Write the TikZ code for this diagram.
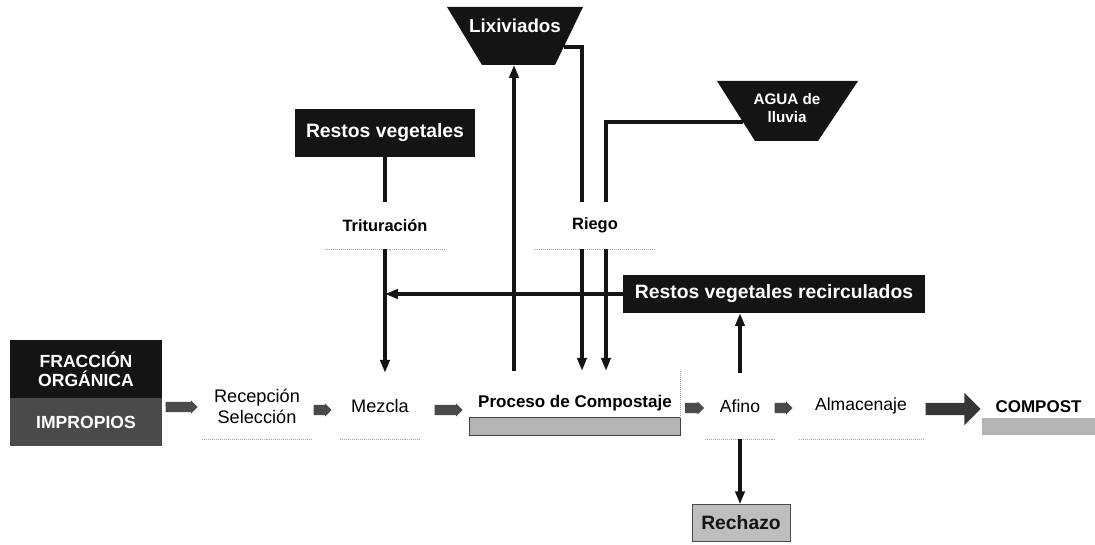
\documentclass[tikz,border=0pt]{standalone}
\usepackage{fontspec}
\setmainfont{Liberation Sans}
\usetikzlibrary{shapes.arrows,arrows.meta}
\definecolor{ink}{HTML}{141414}
\definecolor{impro}{HTML}{4A4A4A}
\definecolor{blkgray}{HTML}{4A4A4A}
\definecolor{bandgray}{HTML}{B4B4B4}
\definecolor{rechgray}{HTML}{BEBEBE}
\begin{document}
\begin{tikzpicture}[x=0.03cm,y=-0.03cm,
  darkbox/.style={rectangle,fill=ink,text=white,inner sep=0pt,align=center,
    font=\fontsize{16.5}{17.5}\selectfont\bfseries},
  trapfill/.style={fill=ink},
  traptext/.style={text=white,inner sep=0pt,align=center,font=\fontsize{15}{16}\selectfont\bfseries},
  stage/.style={rectangle,fill=white,inner sep=0pt,align=center,
    font=\fontsize{15.5}{18}\selectfont},
  stagebf/.style={stage,font=\fontsize{14.5}{17}\selectfont\bfseries},
  uline/.style={draw=gray!70,line width=0.7pt,densely dotted},
  flow/.style={draw=ink,line width=2.6pt},
  arr/.style={flow,-{Triangle[length=11pt,width=8pt]}},
  blk/.style={single arrow,fill=blkgray,draw=none,inner xsep=0pt,inner ysep=0.15cm,
    single arrow head extend=0.04cm,single arrow head indent=0pt},
  band/.style={fill=bandgray,draw=ink!80,line width=0.6pt},
]
\useasboundingbox (0,0) rectangle (1095,545);

% ---------- top inputs ----------
\fill[trapfill] (447,7) -- (583,7) -- (555,65) -- (482,65) -- cycle;
\node[traptext,font=\fontsize{16}{17}\selectfont\bfseries] (lix) at (515,26) {Lixiviados};
\coordinate (lixB) at (514,65);
\coordinate (lixR) at (564,47);
\coordinate (c1) at (582,47);

\fill[trapfill] (717,81) -- (858,81) -- (818,141) -- (755,141) -- cycle;
\node[traptext,font=\fontsize{13}{15}\selectfont\bfseries] (agua) at (787,108) {AGUA de\\lluvia};
\coordinate (aguaL) at (743,122);
\coordinate (c2) at (606,122);

\node[darkbox,minimum width=5.4cm,minimum height=1.44cm] (rv) at (385,133) {Restos vegetales};

\node[stagebf,font=\fontsize{14}{16}\selectfont\bfseries,minimum width=3.6cm,minimum height=1.41cm] (trit) at (385,225.5) {Trituración};
\node[stagebf,font=\fontsize{14}{16}\selectfont\bfseries,minimum width=3.6cm,minimum height=1.41cm] (riego) at (595,225.5) {Riego};
\draw[uline] (trit.south west) -- (trit.south east);
\draw[uline] (riego.south west) -- (riego.south east);

\node[darkbox,minimum width=9.06cm,minimum height=1.14cm] (rvr) at (774,294) {Restos vegetales recirculados};

% ---------- main row ----------
\node[darkbox,font=\fontsize{15}{16}\selectfont\bfseries,minimum width=4.56cm,minimum height=1.74cm] (frac) at (86,369) {FRACCIÓN\\ORGÁNICA};
\node[darkbox,fill=impro,font=\fontsize{15}{16}\selectfont\bfseries,minimum width=4.56cm,minimum height=1.44cm] (impr) at (86,422) {IMPROPIOS};

\node[stage,minimum width=3.3cm,minimum height=1.98cm] (rec) at (257,406) {Recepción\\Selección};
\node[stage,minimum width=2.4cm,minimum height=1.98cm] (mez) at (380,406) {Mezcla};
\node[stagebf,minimum width=6.3cm,minimum height=1.92cm] (proc) at (575,403) {\raisebox{-0.15cm}{Proceso de Compostaje}};
\node[stage,font=\fontsize{15}{18}\selectfont,minimum width=2.1cm,minimum height=1.98cm] (afino) at (740,406) {Afino};
\node[stage,font=\fontsize{15}{18}\selectfont,minimum width=3.7cm,minimum height=1.98cm] (alm) at (861,406) {Almacenaje};
\node[stagebf,minimum width=3.39cm,minimum height=0.66cm] (compost) at (1038.5,407) {COMPOST};

\draw[uline] (rec.south west) -- (rec.south east);
\draw[uline] (mez.south west) -- (mez.south east);
\draw[uline] (afino.south west) -- (afino.south east);
\draw[uline] (alm.south west) -- (alm.south east);
\draw[band] ([yshift=0.54cm]proc.south west) rectangle (proc.south east);
\draw[uline] (proc.north east) -- ([yshift=0.54cm]proc.south east);
\fill[bandgray] (compost.south west) rectangle ([yshift=-0.51cm]compost.south east);

\node[darkbox,fill=rechgray,text=ink,draw=gray!60!black,line width=0.6pt,
  minimum width=2.94cm,minimum height=1.11cm] (rech) at (741,523) {Rechazo};

% ---------- block arrows ----------
\node[blk,minimum height=0.96cm] (b1) at (179,407) {};
\node[blk,minimum height=0.54cm] (b2) at (320,410) {};
\node[blk,minimum height=0.84cm] (b3) at (446,410) {};
\node[blk,minimum height=0.57cm] (b4) at (692,408) {};
\node[blk,minimum height=0.54cm] (b5) at (781,408) {};
\node[single arrow,fill=ink!85,draw=none,inner xsep=0pt,inner ysep=0.18cm,
  single arrow head extend=0.3cm,minimum height=1.65cm] (b6) at (950,409) {};

% ---------- connectors ----------
\draw[arr] (lixB |- proc.north) -- (lixB);
\draw[flow] (lixR) -- (c1) -- (c1 |- riego.north);
\draw[arr] (c1 |- riego.south) -- (c1 |- proc.north);
\draw[flow] (aguaL) -- (c2) -- (c2 |- riego.north);
\draw[arr] (c2 |- riego.south) -- (c2 |- proc.north);

\draw[flow] (rv.south) -- (trit.north);
\draw[arr] (trit.south) -- (trit.south |- mez.north);
\draw[arr] (rvr.west) -- (rvr.west -| trit.south);

\draw[arr] (afino.north) -- (afino.north |- rvr.south);
\draw[arr] (afino.south) -- (afino.south |- rech.north);
\end{tikzpicture}
\end{document}
